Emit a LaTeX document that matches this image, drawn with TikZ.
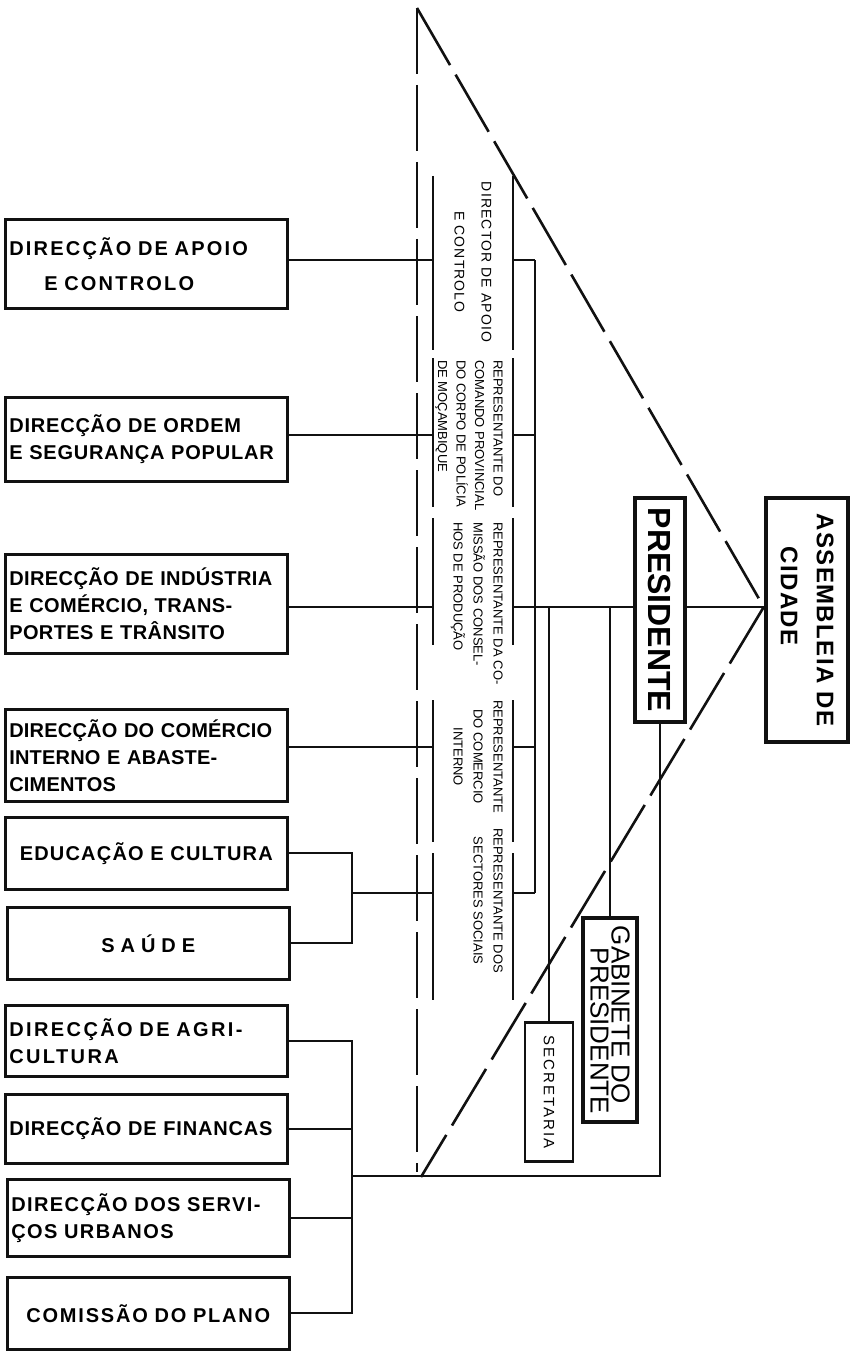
\documentclass[tikz,border=0pt]{standalone}
\usepackage{fontspec}
\setmainfont{Liberation Sans}
\newfontfamily\widefam{Liberation Sans}[LetterSpace=8]
\newfontfamily\secfam{Liberation Sans}[LetterSpace=14]
\newfontfamily\acfam{Liberation Sans}[LetterSpace=6]
\newfontfamily\saufam{Liberation Sans}[LetterSpace=30]
\usepackage{tikz}
\usetikzlibrary{positioning, calc}
\definecolor{cink}{HTML}{111111}

\begin{document}
\begin{tikzpicture}[
    x=1pt, y=-1pt,
    dirbox/.style={
        rectangle, draw=cink, line width=2.6pt, anchor=north west,
        inner xsep=4pt, inner ysep=2pt, text width=274pt, align=left,
        font=\bfseries\fontsize{20}{27}\selectfont
    },
    track/.style={
        font=\bfseries\fontsize{20}{27}\selectfont\addfontfeature{LetterSpace=#1}
    },
    topbox/.style={
        rectangle, draw=cink, rotate=-90, inner sep=0pt
    },
    rep/.style={
        rotate=-90, anchor=north west, inner sep=0pt, align=left,
        font=\fontsize{13}{20}\selectfont
    },
    edge/.style={draw=cink, line width=1.8pt},
    bar/.style={draw=cink, line width=2.8pt},
    tri/.style={draw=cink, line width=2.6pt, dash pattern=on 66pt off 11pt}
]
\fill[white] (0,0) rectangle (857,1356);

\node[dirbox, track=11, minimum height=89pt] (dac) at (4,218)
  {DIRECÇÃO DE APOIO\\[8pt]\hspace*{35pt}E CONTROLO};
\node[dirbox, track=4, minimum height=84pt] (dosp) at (4,396)
  {DIRECÇÃO DE ORDEM\\E SEGURANÇA POPULAR};
\node[dirbox, track=2, minimum height=99pt] (dict) at (4,553)
  {DIRECÇÃO DE INDÚSTRIA\\E COMÉRCIO, TRANS-\\PORTES E TRÂNSITO};
\node[dirbox, track=1, minimum height=92pt] (dcia) at (4,708)
  {DIRECÇÃO DO COMÉRCIO\\INTERNO E ABASTE-\\CIMENTOS};
\node[dirbox, track=6, minimum height=72pt, align=center] (edu) at (4,816)
  {EDUCAÇÃO E CULTURA};
\node[dirbox, minimum height=72pt, align=center,
      font=\saufam\bfseries\fontsize{20}{27}\selectfont] (sau) at (6,906)
  {SAÚDE\hspace*{24pt}};
\node[dirbox, track=12, minimum height=71pt] (agr) at (4,1004)
  {DIRECÇÃO DE AGRI-\\CULTURA};
\node[dirbox, track=4, minimum height=69pt] (fin) at (4,1093)
  {DIRECÇÃO DE FINANCAS};
\node[dirbox, track=7, minimum height=77pt] (dsu) at (6,1178)
  {DIRECÇÃO DOS SERVI-\\ÇOS URBANOS};
\node[dirbox, track=9, minimum height=72pt, align=center] (cpl) at (6,1276)
  {COMISSÃO DO PLANO};

\node[rep, anchor=center, align=center, font=\widefam\fontsize{14}{27}\selectfont]
  (rep1) at (473,262) {DIRECTOR DE APOIO\\E CONTROLO};
\node[rep, font=\fontsize{13}{18.5}\selectfont] (rep2) at (503,360)
  {REPRESENTANTE DO\\COMANDO PROVINCIAL\\DO CORPO DE POLÍCIA\\DE MOÇAMBIQUE};
\node[rep] (rep3) at (503,522)
  {REPRESENTANTE DA CO-\\MISSÃO DOS CONSEL-\\HOS DE PRODUÇÃO};
\node[rep, align=center] (rep4) at (503,700)
  {REPRESENTANTE\\DO COMERCIO\\INTERNO};
\node[rep, align=center] (rep5) at (503,828)
  {REPRESENTANTE DOS\\SECTORES SOCIAIS};

\node[topbox, line width=4.5pt, minimum width=224pt, minimum height=50pt,
      font=\bfseries\fontsize{32}{32}\selectfont] (pres) at (660,610) {PRESIDENTE};
\node[topbox, line width=4.5pt, minimum width=244pt, minimum height=82pt,
      align=left, font=\acfam\bfseries\fontsize{24}{36}\selectfont] (ac) at (807,620)
  {ASSEMBLEIA DE\\\hspace*{33pt}CIDADE};
\node[topbox, line width=3.6pt, minimum width=204pt, minimum height=54pt,
      align=left, font=\fontsize{26}{21}\selectfont] (gab) at (610,1020)
  {GABINETE DO\\\hspace*{22pt}PRESIDENTE};
\node[topbox, line width=2.8pt, minimum width=139pt, minimum height=48pt,
      font=\secfam\fontsize{15}{15}\selectfont] (sec) at (549,1092) {SECRETARIA};

\foreach \ya/\yb in {176/350, 358/507, 518/645, 700/842, 853/1000}{
  \draw[bar] (433,\ya) -- (433,\yb);
  \draw[bar] (513,\ya) -- (513,\yb);
}
\foreach \i/\y in {1/260, 2/435, 3/607, 4/747, 5/893}{
  \coordinate (lb\i) at (433,\y);
  \coordinate (rb\i) at (513,\y);
  \coordinate (cb\i) at (535,\y);
}
\coordinate (bk1) at (352,893);
\coordinate (bk2) at (352,1176);
\coordinate (tapex) at (417,8);
\coordinate (tleft) at (417,1172);
\coordinate (tbot) at (421,1177);
\coordinate (tip) at (ac.south |- cb3);

\foreach \a/\i in {dac/1, dosp/2, dict/3, dcia/4}
  \draw[edge] (\a.east |- lb\i) -- (lb\i);
\draw[edge] (edu.east) -| (bk1) |- (sau.east);
\draw[edge] (bk1) -- (lb5);
\foreach \i in {1,...,5}
  \draw[edge] (rb\i) -- (cb\i);
\draw[edge] (cb1) -- (cb5);
\draw[edge] (cb3) -- (pres.south |- cb3);
\draw[edge] (pres.north |- cb3) -- (tip);
\draw[edge] (sec.west |- cb3) -- (sec.west);
\draw[edge] (gab.west |- cb3) -- (gab.west);
\draw[edge] (agr.east) -| (bk2) |- (cpl.east);
\foreach \a in {fin, dsu}
  \draw[edge] (\a.east) -- (\a.east -| bk2);
\draw[edge] (pres.east) |- (bk2);

\draw[tri] (tapex) -- (tleft);
\draw[tri] (tapex) -- (tip);
\draw[tri] (tip) -- (tbot);
\end{tikzpicture}
\end{document}
